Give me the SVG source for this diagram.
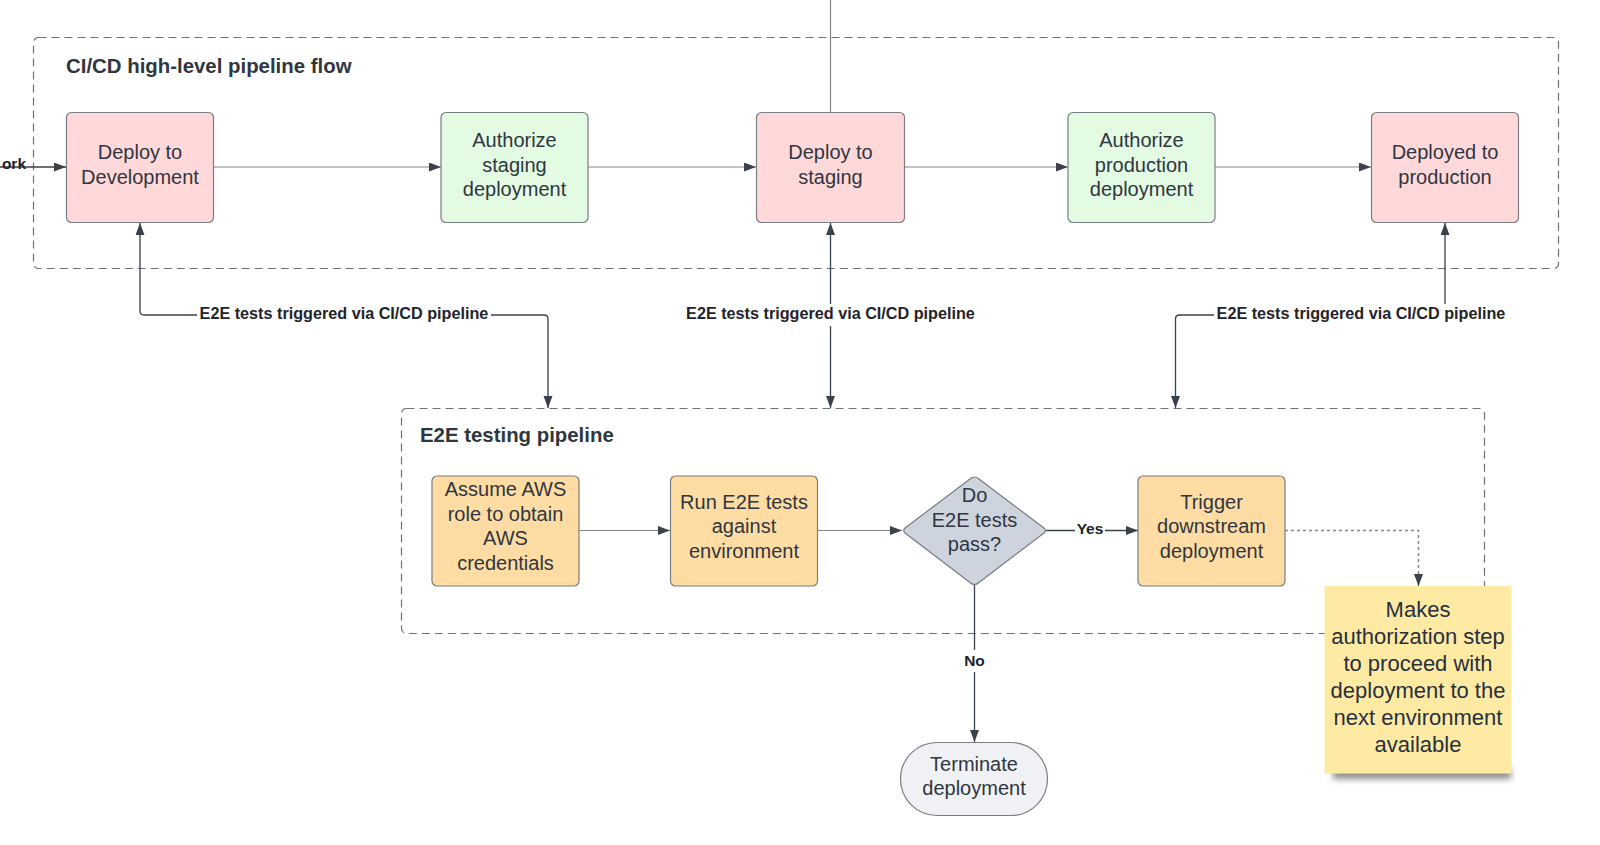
<svg xmlns="http://www.w3.org/2000/svg" width="1600" height="845" viewBox="0 0 1600 845">
  <style>
    text { font-family: "Liberation Sans", Arial, sans-serif; fill: #2f3640; }
    .t { font-size: 20px; text-anchor: middle; }
    .title { font-size: 20.4px; font-weight: bold; }
    .lbl { font-size: 16.2px; font-weight: bold; text-anchor: middle; fill: #1f242b; }
    .sm { font-size: 15.5px; font-weight: bold; text-anchor: middle; fill: #1f242b; }
    .note { font-size: 22px; text-anchor: middle; fill: #27303f; }
    .grp { fill: none; stroke: #6e7177; stroke-width: 1.2; stroke-dasharray: 8 5; }
    .box { stroke: #7a7d82; stroke-width: 1.2; }
    .red { fill: #ffd9d9; }
    .green { fill: #e3fae3; }
    .orange { fill: #fedca3; }
    .flow { fill: none; stroke: #85888d; stroke-width: 1.2; }
    .dark { fill: none; stroke: #3a414a; stroke-width: 1.3; }
    .dot { fill: none; stroke: #85888d; stroke-width: 1.5; stroke-dasharray: 3 3; }
  </style>
  <defs>
    <marker id="ah" markerUnits="userSpaceOnUse" markerWidth="13" markerHeight="10" refX="12" refY="4.5" orient="auto-start-reverse">
      <path d="M0,0 L12,4.5 L0,9 z" fill="#3a414a"/>
    </marker>
    <filter id="blur" x="-20%" y="-200%" width="140%" height="500%">
      <feGaussianBlur stdDeviation="3"/>
    </filter>
  </defs>

  <rect width="1600" height="845" fill="#ffffff"/>

  <!-- Group containers -->
  <g id="cicd-group">
    <rect class="grp" x="33.5" y="37.5" width="1525" height="231" rx="5"/>
    <text class="title" x="66" y="72.5">CI/CD high-level pipeline flow</text>
  </g>
  <g id="e2e-group">
    <rect class="grp" x="401.5" y="408.5" width="1083" height="225" rx="5"/>
    <text class="title" x="420" y="441.5">E2E testing pipeline</text>
  </g>

  <!-- Connectors -->
  <g id="connectors">
    <line class="flow" x1="830.5" y1="0" x2="830.5" y2="112"/>
    <line class="dark" x1="0" y1="167" x2="66" y2="167" marker-end="url(#ah)"/>
    <line class="flow" x1="214" y1="167" x2="441" y2="167" marker-end="url(#ah)"/>
    <line class="flow" x1="588" y1="167" x2="756" y2="167" marker-end="url(#ah)"/>
    <line class="flow" x1="904" y1="167" x2="1068" y2="167" marker-end="url(#ah)"/>
    <line class="flow" x1="1215" y1="167" x2="1371" y2="167" marker-end="url(#ah)"/>

    <path class="dark" d="M140,223 L140,311 Q140,315 144,315 L544,315 Q548,315 548,319 L548,408" marker-start="url(#ah)" marker-end="url(#ah)"/>
    <path class="dark" d="M830.5,223 L830.5,408" marker-start="url(#ah)" marker-end="url(#ah)"/>
    <path class="dark" d="M1445,223 L1445,311 Q1445,315 1441,315 L1179.5,315 Q1175.5,315 1175.5,319 L1175.5,408" marker-start="url(#ah)" marker-end="url(#ah)"/>

    <line class="flow" x1="579" y1="530.5" x2="670" y2="530.5" marker-end="url(#ah)"/>
    <line class="flow" x1="817" y1="530.5" x2="902" y2="530.5" marker-end="url(#ah)"/>
    <line class="dark" x1="1046" y1="530.5" x2="1138" y2="530.5" marker-end="url(#ah)"/>
    <line class="dark" x1="974.5" y1="585" x2="974.5" y2="742" marker-end="url(#ah)"/>
    <path class="dot" d="M1285,530.5 L1418.5,530.5 L1418.5,586" marker-end="url(#ah)"/>

    <rect x="197" y="304" width="294" height="22" fill="#ffffff"/>
    <text class="lbl" x="344" y="319">E2E tests triggered via CI/CD pipeline</text>
    <rect x="684" y="304" width="293" height="22" fill="#ffffff"/>
    <text class="lbl" x="830.5" y="319">E2E tests triggered via CI/CD pipeline</text>
    <rect x="1214" y="304" width="294" height="22" fill="#ffffff"/>
    <text class="lbl" x="1361" y="319">E2E tests triggered via CI/CD pipeline</text>

    <rect x="1075" y="520" width="30" height="20" fill="#ffffff"/>
    <text class="sm" x="1090" y="534">Yes</text>
    <rect x="960" y="650" width="29" height="22" fill="#ffffff"/>
    <text class="sm" x="974.5" y="666">No</text>

    <text class="sm" x="26" y="169" style="text-anchor:end">ork</text>
  </g>

  <!-- Top row nodes -->
  <g id="deploy-dev">
    <rect class="box red" x="66.5" y="112.5" width="147" height="110" rx="5"/>
    <text class="t" x="140" y="159">Deploy to</text>
    <text class="t" x="140" y="183.5">Development</text>
  </g>
  <g id="auth-staging">
    <rect class="box green" x="441" y="112.5" width="147" height="110" rx="5"/>
    <text class="t" x="514.5" y="147">Authorize</text>
    <text class="t" x="514.5" y="171.5">staging</text>
    <text class="t" x="514.5" y="196">deployment</text>
  </g>
  <g id="deploy-staging">
    <rect class="box red" x="756.5" y="112.5" width="148" height="110" rx="5"/>
    <text class="t" x="830.5" y="159">Deploy to</text>
    <text class="t" x="830.5" y="183.5">staging</text>
  </g>
  <g id="auth-production">
    <rect class="box green" x="1068" y="112.5" width="147" height="110" rx="5"/>
    <text class="t" x="1141.5" y="147">Authorize</text>
    <text class="t" x="1141.5" y="171.5">production</text>
    <text class="t" x="1141.5" y="196">deployment</text>
  </g>
  <g id="deployed-production">
    <rect class="box red" x="1371.5" y="112.5" width="147" height="110" rx="5"/>
    <text class="t" x="1445" y="159">Deployed to</text>
    <text class="t" x="1445" y="183.5">production</text>
  </g>

  <!-- E2E nodes -->
  <g id="assume-role">
    <rect class="box orange" x="432" y="476" width="147" height="110" rx="5"/>
    <text class="t" x="505.5" y="496">Assume AWS</text>
    <text class="t" x="505.5" y="520.5">role to obtain</text>
    <text class="t" x="505.5" y="545">AWS</text>
    <text class="t" x="505.5" y="569.5">credentials</text>
  </g>
  <g id="run-tests">
    <rect class="box orange" x="670.5" y="476" width="147" height="110" rx="5"/>
    <text class="t" x="744" y="508.5">Run E2E tests</text>
    <text class="t" x="744" y="533">against</text>
    <text class="t" x="744" y="557.5">environment</text>
  </g>
  <g id="decision">
    <path d="M974.5,477 Q977,477 979,479 L1044,528 Q1046.5,530.5 1044,533 L979,582.5 Q977,584.5 974.5,584.5 Q972,584.5 970,582.5 L905,533 Q902.5,530.5 905,528 L970,479 Q972,477 974.5,477 z" fill="#ced4de" stroke="#7a7d82" stroke-width="1.2"/>
    <text class="t" x="974.5" y="502">Do</text>
    <text class="t" x="974.5" y="526.5">E2E tests</text>
    <text class="t" x="974.5" y="551">pass?</text>
  </g>
  <g id="trigger-downstream">
    <rect class="box orange" x="1138" y="476" width="147" height="110" rx="5"/>
    <text class="t" x="1211.5" y="508.5">Trigger</text>
    <text class="t" x="1211.5" y="533">downstream</text>
    <text class="t" x="1211.5" y="557.5">deployment</text>
  </g>
  <g id="terminate">
    <rect x="900.5" y="742.5" width="147" height="73" rx="36.5" fill="#f0f1f4" stroke="#7a7d82" stroke-width="1.2"/>
    <text class="t" x="974" y="770.5">Terminate</text>
    <text class="t" x="974" y="795">deployment</text>
  </g>

  <!-- Sticky note -->
  <g id="sticky-note">
    <rect x="1333" y="769" width="178" height="10" fill="#8a8a8a" filter="url(#blur)"/>
    <rect x="1324.5" y="586" width="187" height="187.5" fill="#ffeaa4"/>
    <text class="note" x="1418" y="617">Makes</text>
    <text class="note" x="1418" y="644">authorization step</text>
    <text class="note" x="1418" y="671">to proceed with</text>
    <text class="note" x="1418" y="698">deployment to the</text>
    <text class="note" x="1418" y="725">next environment</text>
    <text class="note" x="1418" y="752">available</text>
  </g>
</svg>
